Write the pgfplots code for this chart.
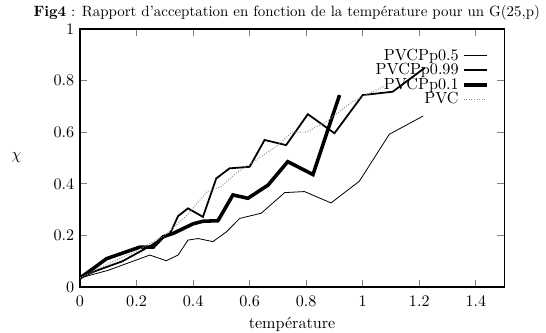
\documentclass[border=0pt]{standalone}
\usepackage{pgfplots}
\pgfplotsset{compat=1.18}
\begin{document}
\begin{tikzpicture}
\begin{axis}[
  scale only axis,
  width=263pt, height=160pt,
  xmin=0, xmax=1.5, ymin=0, ymax=1,
  xtick={0,0.2,0.4,0.6,0.8,1,1.2,1.4},
  ytick={0,0.2,0.4,0.6,0.8,1},
  tick align=inside,
  axis line style={line width=0.7pt},
  major tick style={line width=0.6pt},
  xticklabel style={yshift=-2pt},
  ylabel={$\chi$},
  ylabel style={rotate=-90, at={(axis description cs:-0.15,0.5)}, anchor=center},
  xlabel={température},
  legend plot pos=right,
  legend cell align=right,
  legend style={draw=none, fill=none, at={(0.975,0.95)}, anchor=north east,
    row sep=-3.5pt, font=\normalsize},
  legend image code/.code={\draw[#1] (0cm,0cm) -- (0.5cm,0cm);},
]
\addplot[black, line width=0.5pt] coordinates {
(0,0.035) (0.05,0.05) (0.1,0.065) (0.15,0.085) (0.2,0.105) (0.247,0.124)
(0.305,0.102) (0.347,0.124) (0.382,0.182) (0.418,0.188) (0.47,0.176)
(0.518,0.214) (0.565,0.266) (0.641,0.286) (0.724,0.366) (0.794,0.37)
(0.888,0.326) (0.988,0.41) (1.094,0.592) (1.214,0.663)
};
\addlegendentry{PVCPp0.5}
\addplot[black, line width=1.1pt] coordinates {
(0,0.035) (0.05,0.06) (0.1,0.08) (0.15,0.1) (0.2,0.13) (0.25,0.16) (0.32,0.21)
(0.347,0.275) (0.382,0.305) (0.435,0.272) (0.482,0.421) (0.529,0.46)
(0.6,0.466) (0.653,0.57) (0.729,0.55) (0.806,0.67) (0.9,0.596)
(1.0,0.744) (1.106,0.757) (1.22,0.85)
};
\addlegendentry{PVCPp0.99}
\addplot[black, line width=2.2pt] coordinates {
(0,0.035) (0.047,0.072) (0.094,0.11) (0.165,0.137) (0.212,0.155)
(0.259,0.155) (0.294,0.195) (0.33,0.208) (0.4,0.245) (0.435,0.255)
(0.488,0.257) (0.541,0.357) (0.594,0.344) (0.665,0.395) (0.735,0.486)
(0.824,0.436) (0.918,0.744)
};
\addlegendentry{PVCPp0.1}
\addplot[black!45, line width=0.6pt, densely dotted] coordinates {
(0,0.035) (0.1,0.09) (0.2,0.14) (0.3,0.2) (0.38,0.28) (0.45,0.37)
(0.5,0.39) (0.55,0.44) (0.62,0.49) (0.7,0.55) (0.75,0.6) (0.8,0.6)
(0.87,0.64) (0.965,0.72) (1.08,0.78)
};
\addlegendentry{PVC}
\coordinate (SW) at (rel axis cs:0,0);
\coordinate (NE) at (rel axis cs:1,1);
\coordinate (NW) at (rel axis cs:0,1);
\end{axis}
\node[anchor=base west, inner sep=0pt] at ([shift={(-29pt,8pt)}]NW) {\resizebox{314pt}{!}{\textbf{Fig4} : Rapport d'acceptation en fonction de la température pour un G(25,p)}};
\pgfresetboundingbox
\path[use as bounding box] ([shift={(-49.6pt,-28.5pt)}]SW) rectangle ([shift={(26pt,18pt)}]NE);
\end{tikzpicture}
\end{document}
